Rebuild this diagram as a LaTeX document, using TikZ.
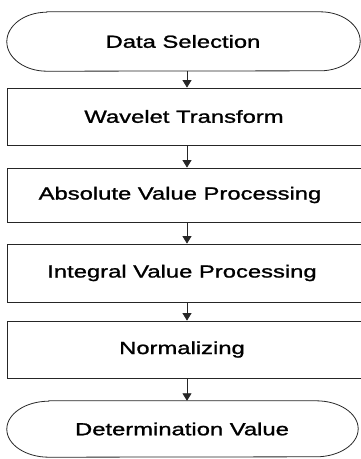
\documentclass[tikz,border=0pt]{standalone}
\usepackage{fontspec}
\setmainfont{Liberation Sans}[FakeStretch=1.36,FakeBold=1.3]
\usetikzlibrary{arrows.meta}
\begin{document}
\begin{tikzpicture}[x=1pt,y=-1pt,
  lbl/.style={font=\fontsize{17.5}{20}\selectfont, inner sep=0pt},
  frame/.style={draw=black!85, line width=0.8pt},
  conn/.style={draw=black!85, line width=0.8pt, -{Triangle[width=9pt,length=7.5pt]}}]
\useasboundingbox (0,0) rectangle (361,459);
% terminal shape nodes (invisible frames)
\node[minimum width=353pt, minimum height=59pt, inner sep=0pt] (a) at (183.5,41.5) {};
\node[lbl] (ta) at (183,41.5) {Data Selection};
\node[frame, minimum width=355pt, minimum height=57pt, inner sep=0pt] (b) at (184.5,116.5) {};
\node[lbl] (tb) at (184,116.5) {Wavelet Transform};
\node[frame, minimum width=355pt, minimum height=54pt, inner sep=0pt] (c) at (184.5,195) {};
\node[lbl] (tc) at (180,195) {Absolute Value Processing};
\node[frame, minimum width=355pt, minimum height=58pt, inner sep=0pt] (d) at (184.5,273) {};
\node[lbl] (td) at (182,273) {Integral Value Processing};
\node[frame, minimum width=355pt, minimum height=57pt, inner sep=0pt] (e) at (184.5,349.5) {};
\node[lbl] (te) at (182,349.5) {Normalizing};
\node[minimum width=351pt, minimum height=56pt, inner sep=0pt] (f) at (182.5,429) {};
\node[lbl] (tf) at (182,429) {Determination Value};
% terminal outlines
\draw[frame] ([xshift=40pt]a.north west) -- ([xshift=-40pt]a.north east)
  arc[start angle=90, end angle=-90, x radius=40pt, y radius=29.5pt]
  -- ([xshift=40pt]a.south west)
  arc[start angle=270, end angle=90, x radius=40pt, y radius=29.5pt] -- cycle;
\draw[frame] ([xshift=42pt]f.north west) -- ([xshift=-42pt]f.north east)
  arc[start angle=90, end angle=-90, x radius=42pt, y radius=28pt]
  -- ([xshift=42pt]f.south west)
  arc[start angle=270, end angle=90, x radius=42pt, y radius=28pt] -- cycle;
% connectors
\draw[conn] (a.south -| 187,0) -- (b.north -| 187,0);
\draw[conn] (b.south -| 187,0) -- (c.north -| 187,0);
\draw[conn] (c.south -| 187,0) -- (d.north -| 187,0);
\draw[conn] (d.south -| 187,0) -- (e.north -| 187,0);
\draw[conn] (e.south -| 187,0) -- (f.north -| 187,0);
\end{tikzpicture}
\end{document}
